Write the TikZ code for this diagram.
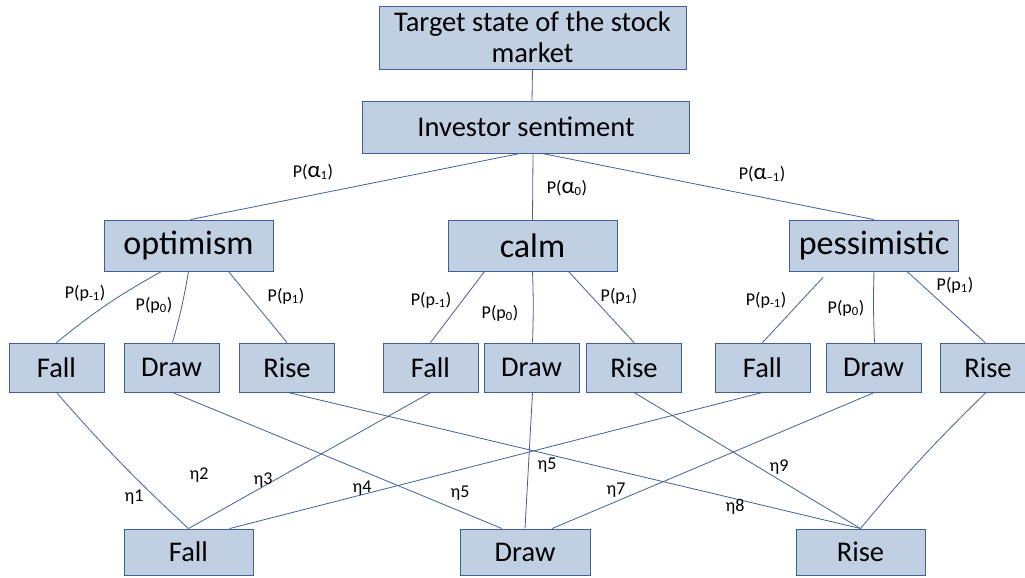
\documentclass[tikz,border=0pt]{standalone}
\usepackage{fontspec}
\setmainfont{Carlito}
\usetikzlibrary{positioning}
\definecolor{boxfill}{RGB}{192,207,226}
\definecolor{boxline}{RGB}{65,96,150}
\newcommand{\bigalpha}{{\fontsize{23}{23}\selectfont α}}

\begin{document}
\begin{tikzpicture}[x=1pt,y=-1pt]
\tikzset{box/.style={draw=boxline,fill=boxfill,line width=0.9pt,inner sep=0pt,minimum width=95pt,minimum height=49pt,font=\fontsize{28.5}{31}\selectfont}}
\tikzset{mood/.style={box,minimum width=169pt,minimum height=51pt,font=\fontsize{34}{38}\selectfont}}
\tikzset{link/.style={draw=boxline,line width=0.8pt}}
\tikzset{lab/.style={inner sep=1pt,font=\fontsize{18}{20}\selectfont}}
\useasboundingbox (0,0) rectangle (1025,578);
% top of the tree
\node[box,minimum width=307pt,minimum height=63pt,align=center] (target) at (532.5,37.5) {Target state of the stock\\market};
\node[box,minimum width=327pt,minimum height=52pt] (inv) at (526,127) {Investor sentiment};
\node[mood] (opt) at (188.5,245.5) {optimism};
\node[mood] (calm) at (532.5,245.5) {calm};
\node[mood] (pess) at (874,245.5) {pessimistic};
% second level
\node[box] (fall1) at (56.5,367.5) {Fall};
\node[box] (draw1) at (171.5,367.5) {Draw};
\node[box] (rise1) at (287,367.5) {Rise};
\node[box] (fall2) at (430.5,367.5) {Fall};
\node[box] (draw2) at (531.5,367.5) {Draw};
\node[box] (rise2) at (634,367.5) {Rise};
\node[box] (fall3) at (762.5,367.5) {Fall};
\node[box] (draw3) at (873.5,367.5) {Draw};
\node[box] (rise3) at (988,367.5) {Rise};
% bottom
\node[box,minimum width=129pt,minimum height=46pt] (fallb) at (188.5,552) {Fall};
\node[box,minimum width=130pt,minimum height=46pt] (drawb) at (525,552) {Draw};
\node[box,minimum width=129pt,minimum height=46pt] (riseb) at (860.5,552) {Rise};

\draw[link] (target.south) -- ([xshift=6pt]inv.north);
\draw[link] ([xshift=-6pt]inv.south) -- ([xshift=2pt]opt.north);
\draw[link] ([xshift=7pt]inv.south) -- (calm.north);
\draw[link] ([xshift=16pt]inv.south) -- (pess.north);

\draw[link] ([xshift=-27pt]opt.south) to[bend right=5] (fall1.north);
\draw[link] (opt.south) to[bend left=3] ([xshift=1pt]draw1.north);
\draw[link] ([xshift=40pt]opt.south) -- (rise1.north);
\draw[link] ([xshift=-48pt]calm.south) -- (fall2.north);
\draw[link] (calm.south) to[bend left=2] ([xshift=1pt]draw2.north);
\draw[link] ([xshift=36pt]calm.south) -- (rise2.north);
\draw[link] ([xshift=-51pt,yshift=-6pt]pess.south) -- (fall3.north);
\draw[link] (pess.south) to[bend right=2] ([xshift=1pt]draw3.north);
\draw[link] ([xshift=33pt]pess.south) -- ([xshift=-3pt]rise3.north);

\draw[link] (fall1.south) to[bend right=3] (fallb.north);
\draw[link] ([xshift=1pt]draw1.south) -- ([xshift=-23pt]drawb.north);
\draw[link] ([xshift=1pt]rise1.south) -- (riseb.north);
\draw[link] (fall2.south) -- (fallb.north);
\draw[link] ([xshift=1pt]draw2.south) -- (drawb.north);
\draw[link] (rise2.south) -- (riseb.north);
\draw[link] (fall3.south) -- ([xshift=41pt]fallb.north);
\draw[link] ([xshift=1pt]draw3.south) -- ([xshift=27pt]drawb.north);
\draw[link] ([xshift=-2pt]rise3.south) to[bend right=3] (riseb.north);

% probabilities
\node[lab] (pa1) at (313,172) {P(\bigalpha\textsubscript{1})};
\node[lab] (pa0) at (567,188) {P(\bigalpha\textsubscript{0})};
\node[lab] (pam) at (762,174) {P(\bigalpha\textsubscript{–1})};
\node[lab] (pm1) at (85,293) {P(p\textsubscript{-1})};
\node[lab] (p01) at (154,305) {P(p\textsubscript{0})};
\node[lab] (pp1) at (286,296) {P(p\textsubscript{1})};
\node[lab] (pm2) at (431,300) {P(p\textsubscript{-1})};
\node[lab] (p02) at (500,313) {P(p\textsubscript{0})};
\node[lab] (pp2) at (619,296) {P(p\textsubscript{1})};
\node[lab] (pm3) at (766,300) {P(p\textsubscript{-1})};
\node[lab] (p03) at (846,308) {P(p\textsubscript{0})};
\node[lab] (pp3) at (955,285) {P(p\textsubscript{1})};
% weights
\node[lab] (e1) at (134,497) {η1};
\node[lab] (e2) at (199,475) {η2};
\node[lab] (e3) at (263,480) {η3};
\node[lab] (e4) at (362,488) {η4};
\node[lab] (e5) at (460,493) {η5};
\node[lab] (e6) at (547,465) {η5};
\node[lab] (e7) at (616,490) {η7};
\node[lab] (e8) at (735,507) {η8};
\node[lab] (e9) at (779,467) {η9};
\end{tikzpicture}
\end{document}
